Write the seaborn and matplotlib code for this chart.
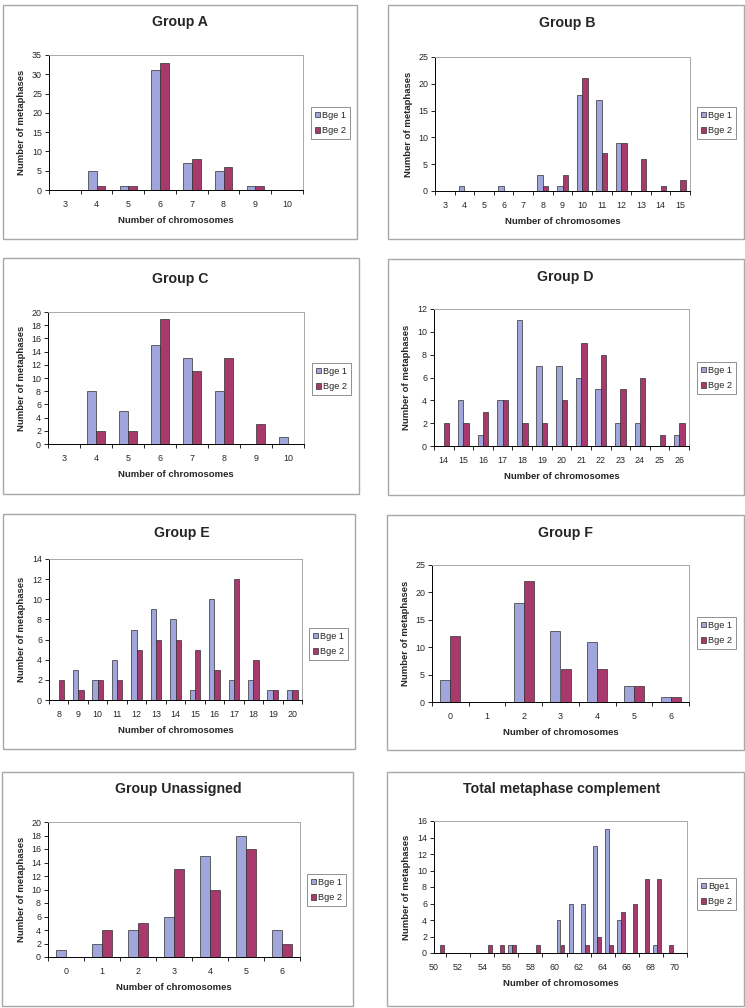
import numpy as np
import pandas as pd
import matplotlib
matplotlib.use("Agg")
import matplotlib.pyplot as plt
import seaborn as sns
from matplotlib.patches import Rectangle

sns.set_style("white")
plt.rcParams["font.family"] = ["Liberation Sans", "DejaVu Sans"]

BLUE = "#a0a5dc"
PLUM = "#a8396c"
W, H = 745, 1008

# ---- data ----
a_x = list(range(3, 11))
a_bge1 = [0, 5, 1, 31, 7, 5, 1, 0]
a_bge2 = [0, 1, 1, 33, 8, 6, 1, 0]

b_x = list(range(3, 16))
b_bge1 = [0, 1, 0, 1, 0, 3, 1, 18, 17, 9, 0, 0, 0]
b_bge2 = [0, 0, 0, 0, 0, 1, 3, 21, 7, 9, 6, 1, 2]

c_x = list(range(3, 11))
c_bge1 = [0, 8, 5, 15, 13, 8, 0, 1]
c_bge2 = [0, 2, 2, 19, 11, 13, 3, 0]

d_x = list(range(14, 27))
d_bge1 = [0, 4, 1, 4, 11, 7, 7, 6, 5, 2, 2, 0, 1]
d_bge2 = [2, 2, 3, 4, 2, 2, 4, 9, 8, 5, 6, 1, 2]

e_x = list(range(8, 21))
e_bge1 = [0, 3, 2, 4, 7, 9, 8, 1, 10, 2, 2, 1, 1]
e_bge2 = [2, 1, 2, 2, 5, 6, 6, 5, 3, 12, 4, 1, 1]

f_x = list(range(0, 7))
f_bge1 = [4, 0, 18, 13, 11, 3, 1]
f_bge2 = [12, 0, 22, 6, 6, 3, 1]

u_x = list(range(0, 7))
u_bge1 = [1, 2, 4, 6, 15, 18, 4]
u_bge2 = [0, 4, 5, 13, 10, 16, 2]

t_x = list(range(50, 71))
t_bge1 = [0, 0, 0, 0, 0, 0, 1, 0, 0, 0, 4, 6, 6, 13, 15, 4, 0, 0, 1, 0, 0]
t_bge2 = [1, 0, 0, 0, 1, 1, 1, 0, 1, 0, 1, 0, 1, 2, 1, 5, 6, 9, 9, 1, 0]

fig = plt.figure(figsize=(W / 100, H / 100), dpi=100)
fig.patch.set_facecolor("white")


def fx(px):
    return px / W


def fy(py):
    return 1 - py / H


def panel(title, cats, s1, s2, names, ymax, ystep, box, plot, title_xy, leg_xy,
          width=0.55, edge_labels=False):
    # chart frame
    x0, y0, x1, y1 = box
    fig.add_artist(Rectangle((fx(x0), fy(y1)), (x1 - x0) / W, (y1 - y0) / H,
                             transform=fig.transFigure, fill=False,
                             edgecolor="#a8a8a8", lw=1.0))
    fig.text(fx(title_xy[0]), fy(title_xy[1]), title, ha="center", va="center",
             fontsize=10.2, fontweight="bold")

    px0, py0, px1, py1 = plot
    ax = fig.add_axes([fx(px0), fy(py1), (px1 - px0) / W, (py1 - py0) / H])

    labels = [str(c) for c in cats]
    df = pd.DataFrame({
        "chromosomes": labels * 2,
        "metaphases": list(s1) + list(s2),
        "series": [names[0]] * len(cats) + [names[1]] * len(cats),
    })
    sns.barplot(data=df, x="chromosomes", y="metaphases", hue="series",
                order=labels, hue_order=names, palette=[BLUE, PLUM],
                saturation=1, width=width, edgecolor="#303030", linewidth=0.5,
                ax=ax)

    n = len(cats)
    ax.set_xlim(-0.5, n - 0.5)
    ax.set_ylim(0, ymax)
    ax.set_yticks(np.arange(0, ymax + 0.1, ystep))
    ax.set_yticklabels([str(int(v)) for v in np.arange(0, ymax + 0.1, ystep)])

    bounds = np.arange(-0.5, n, 1.0)
    if edge_labels:
        # labels sit on the category edges here
        pos = [i - 0.5 for i, c in enumerate(cats) if c % 2 == 0]
        lab = [str(c) for c in cats if c % 2 == 0]
        ax.set_xticks(pos)
        ax.set_xticklabels(lab)
    ax.set_xticks(bounds, minor=True)

    ax.tick_params(axis="x", which="major", length=0, pad=7, labelsize=6.4)
    ax.tick_params(axis="x", which="minor", length=3, width=0.6, direction="out",
                   color="black", bottom=True)
    ax.tick_params(axis="y", which="major", length=3, width=0.6, direction="out",
                   pad=2, labelsize=6.4, color="black", left=True)

    for side in ["left", "bottom"]:
        ax.spines[side].set_color("black")
        ax.spines[side].set_linewidth(0.7)
    for side in ["top", "right"]:
        ax.spines[side].set_color("#a8a8a8")
        ax.spines[side].set_linewidth(0.7)

    ax.set_xlabel("Number of chromosomes", fontsize=6.8, fontweight="bold",
                  labelpad=5)
    ax.set_ylabel("Number of metaphases", fontsize=6.8, fontweight="bold",
                  labelpad=4)

    handles, hl = ax.get_legend_handles_labels()
    ax.legend(handles, hl, loc="upper left",
              bbox_to_anchor=(fx(leg_xy[0]), fy(leg_xy[1])),
              bbox_transform=fig.transFigure, fontsize=6.6, frameon=True,
              fancybox=False, edgecolor="#909090", framealpha=1,
              borderpad=0.4, handlelength=0.55, handleheight=0.55,
              handletextpad=0.3, labelspacing=0.7, borderaxespad=0)
    ax.get_legend().get_frame().set_linewidth(0.7)
    return ax


names = ["Bge 1", "Bge 2"]

panel("Group A", a_x, a_bge1, a_bge2, names, 35, 5,
      (3, 5, 357, 239), (49, 55, 303, 190), (180, 22), (311, 107))
panel("Group B", b_x, b_bge1, b_bge2, names, 25, 5,
      (388, 5, 744, 239), (435, 57, 690, 191), (567, 23), (697, 107))
panel("Group C", c_x, c_bge1, c_bge2, names, 20, 2,
      (3, 258, 359, 494), (48, 312, 304, 444), (180, 279), (312, 363))
panel("Group D", d_x, d_bge1, d_bge2, names, 12, 2,
      (388, 259, 744, 495), (434, 309, 689, 446), (565, 277), (697, 362))
panel("Group E", e_x, e_bge1, e_bge2, names, 14, 2,
      (3, 514, 355, 749), (49, 559, 302, 700), (182, 533), (309, 628))
panel("Group F", f_x, f_bge1, f_bge2, names, 25, 5,
      (387, 515, 744, 750), (432, 565, 689, 702), (565, 533), (697, 617))
panel("Group Unassigned", u_x, u_bge1, u_bge2, names, 20, 2,
      (2, 772, 353, 1006), (48, 822, 300, 957), (178, 789), (307, 874))
panel("Total metaphase complement", t_x, t_bge1, t_bge2, ["Bge1", "Bge 2"],
      16, 2, (387, 772, 744, 1006), (434, 821, 687, 953), (562, 789), (697, 878),
      width=0.65, edge_labels=True)

fig.savefig("out.png", dpi=100)
